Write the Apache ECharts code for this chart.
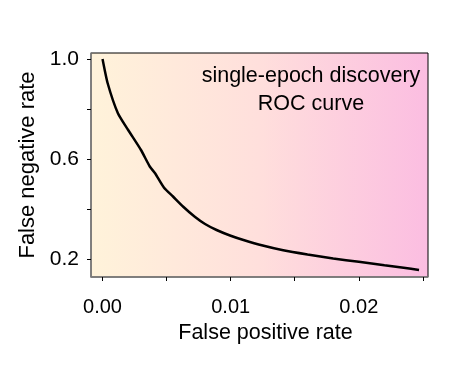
<!DOCTYPE html>
<html>
<head>
<meta charset="utf-8">
<script src="https://cdn.jsdelivr.net/npm/echarts@6/dist/echarts.min.js"></script>
<style>
  html, body { margin: 0; padding: 0; background: #fff; }
  #chart { width: 460px; height: 383px; }
</style>
</head>
<body>
<div id="chart"></div>
<script>
// ROC curve
var falsePositive = [0.0000, 0.0004, 0.0012, 0.0020, 0.0030, 0.0037, 0.0041, 0.0048, 0.0055, 0.0063,
  0.0072, 0.0080, 0.0089, 0.0100, 0.0110, 0.0125, 0.0141, 0.0160, 0.0180, 0.0200, 0.0220, 0.0235, 0.0247];
var falseNegative = [1.000, 0.903, 0.783, 0.716, 0.636, 0.569, 0.543, 0.485, 0.450, 0.409,
  0.369, 0.340, 0.316, 0.293, 0.276, 0.254, 0.235, 0.218, 0.202, 0.189, 0.175, 0.165, 0.156];

var xTicks = [0, 0.005, 0.01, 0.015, 0.02, 0.025];
var xLabels = [0, 0.01, 0.02];
var yTicks = [0.2, 0.4, 0.6, 0.8, 1.0];
var yLabels = [0.2, 0.6, 1.0];

var points = falsePositive.map(function (x, i) { return [x, falseNegative[i]]; });

var font = "Liberation Sans, Arial, sans-serif";
var myChart = echarts.init(document.getElementById("chart"));
myChart.setOption({
  animation: false,
  title: {
    text: "single-epoch discovery\nROC curve",
    left: 306,
    top: 57,
    textAlign: "center",
    textStyle: { fontFamily: font, fontSize: 21.5, fontWeight: "normal", color: "#000", lineHeight: 28 }
  },
  grid: {
    left: 91, right: 32, top: 53, bottom: 106,
    show: true,
    borderColor: "#000",
    borderWidth: 1,
    backgroundColor: new echarts.graphic.LinearGradient(0, 0, 1, 0, [
      { offset: 0, color: "#fff3da" },
      { offset: 0.5, color: "#ffdfdc" },
      { offset: 1, color: "#fbbde1" }
    ])
  },
  xAxis: {
    type: "value",
    min: -0.0009,
    max: 0.0254,
    name: "False positive rate",
    nameLocation: "middle",
    nameGap: 37,
    nameTextStyle: { fontFamily: font, fontSize: 21.5, color: "#000", padding: [0, 0, 0, 12] },
    splitLine: { show: false },
    axisLine: { onZero: false, lineStyle: { color: "#808080", width: 1.5 } },
    axisTick: { show: true, length: 4, customValues: xTicks, lineStyle: { color: "#000" } },
    axisLabel: {
      customValues: xLabels,
      margin: 20,
      fontFamily: font, fontSize: 20, color: "#000",
      formatter: function (v) { return v.toFixed(2); }
    }
  },
  yAxis: {
    type: "value",
    min: 0.128,
    max: 1.024,
    name: "False negative rate",
    nameLocation: "middle",
    nameGap: 46,
    nameTextStyle: { fontFamily: font, fontSize: 22, color: "#000" },
    splitLine: { show: false },
    axisLine: { onZero: false, lineStyle: { color: "#808080", width: 1.5 } },
    axisTick: { show: true, length: 4, customValues: yTicks, lineStyle: { color: "#000" } },
    axisLabel: {
      customValues: yLabels,
      margin: 12,
      fontFamily: font, fontSize: 21, color: "#000",
      formatter: function (v) { return v.toFixed(1); }
    }
  },
  series: [
    {
      type: "line",
      data: points,
      showSymbol: false,
      smooth: 0.2,
      lineStyle: { color: "#000", width: 2.5 }
    }
  ]
});
</script>
</body>
</html>
